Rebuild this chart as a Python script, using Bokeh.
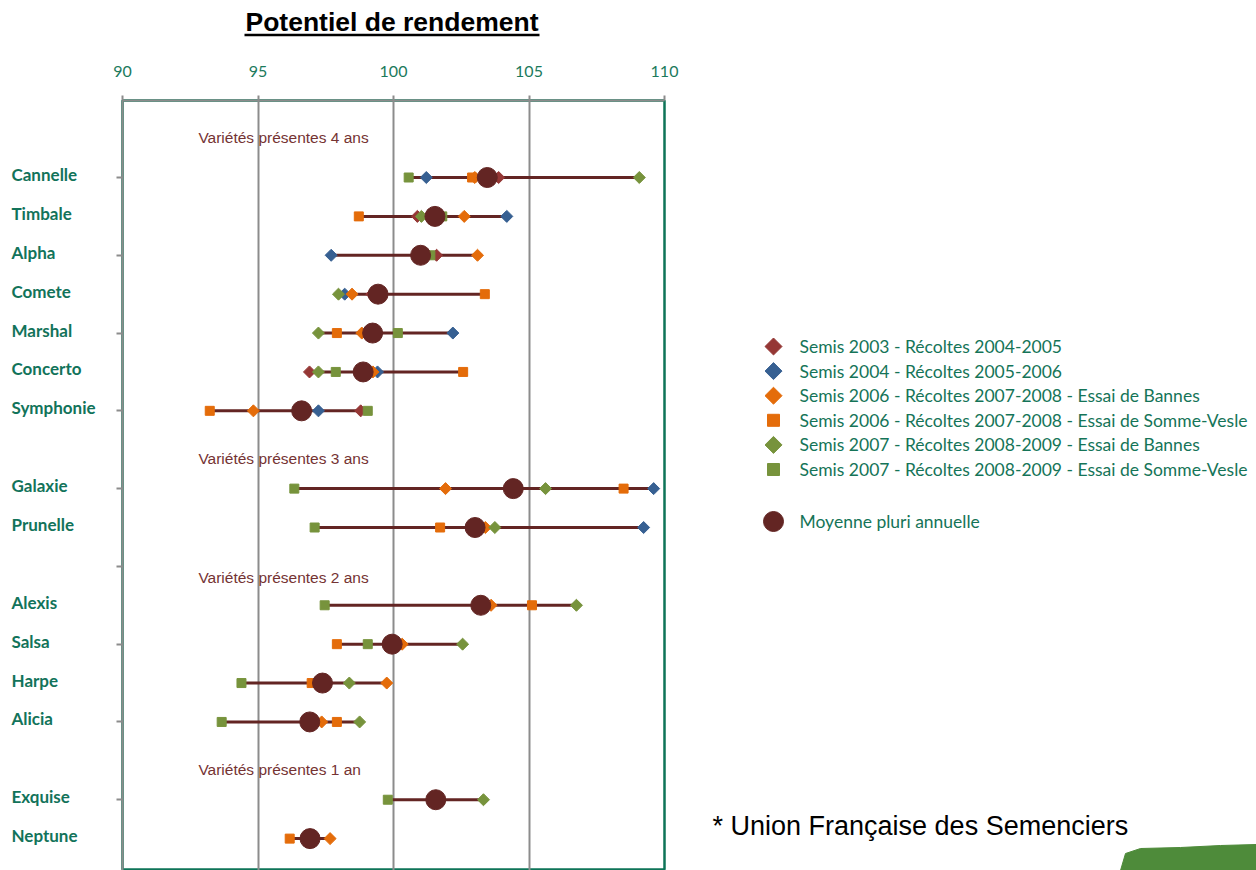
import numpy as np
from bokeh.plotting import figure
from bokeh.models import Range1d, FixedTicker, ColumnDataSource
from bokeh.layouts import row, column
from bokeh.embed import file_html
from bokeh.resources import INLINE
from bokeh.core.properties import value

nan = np.nan

# ---------------- data ----------------
title_text = "Potentiel de rendement"
group_labels = ["Variétés présentes 4 ans", "Variétés présentes 3 ans",
                "Variétés présentes 2 ans", "Variétés présentes 1 an"]
group_varieties = [
    ["Cannelle", "Timbale", "Alpha", "Comete", "Marshal", "Concerto", "Symphonie"],
    ["Galaxie", "Prunelle"],
    ["Alexis", "Salsa", "Harpe", "Alicia"],
    ["Exquise", "Neptune"],
]
x_ticks = [90, 95, 100, 105, 110]

series_names = [
    "Semis 2003 - Récoltes 2004-2005",
    "Semis 2004 - Récoltes 2005-2006",
    "Semis 2006 - Récoltes 2007-2008 - Essai de Bannes",
    "Semis 2006 - Récoltes 2007-2008 - Essai de Somme-Vesle",
    "Semis 2007 - Récoltes 2008-2009 - Essai de Bannes",
    "Semis 2007 - Récoltes 2008-2009 - Essai de Somme-Vesle",
]
mean_name = "Moyenne pluri annuelle"
footnote = "* Union Française des Semenciers"

#            Cann    Timb    Alph    Come    Mars    Conc    Symp    Gala    Prun    Alex    Sals    Harp    Alic    Exqu    Nept
s2003   = [103.88, 100.88, 101.59,  99.20,  99.06,  96.90,  98.79,   nan,    nan,    nan,    nan,    nan,    nan,    nan,    nan]
s2004   = [101.21, 104.18,  97.70,  98.20, 102.19,  99.41,  97.23, 109.60, 109.23,   nan,    nan,    nan,    nan,    nan,    nan]
s2006_b = [103.00, 102.61, 103.10,  98.47,  98.83,  99.24,  94.83, 101.92, 103.39, 103.60, 100.32,  99.75,  97.35,   nan,  97.66]
s2006_s = [102.90,  98.72, 101.05, 103.37,  97.91, 102.57,  93.22, 108.49, 101.72, 105.11,  97.91,  96.98,  97.91,   nan,  96.17]
s2007_b = [109.07, 101.03, 101.20,  97.97,  97.23,  97.23,  96.54, 105.61, 103.74, 106.75, 102.55,  98.37,  98.75, 103.32,   nan]
s2007_s = [100.56, 101.80, 101.36,  99.40, 100.16,  97.87,  99.05,  96.34,  97.09,  97.46,  99.05,  94.39,  93.66,  99.79,   nan]
moyenne = [103.46, 101.53, 101.00,  99.43,  99.23,  98.88,  96.61, 104.42, 103.01, 103.22,  99.95,  97.38,  96.91, 101.56,  96.92]

series_values = [s2003, s2004, s2006_b, s2006_s, s2007_b, s2007_s]

# ---------------- styles ----------------
series_colors = ["#953735", "#376092", "#E46C0A", "#E46C0A", "#77933C", "#77933C"]
series_is_diamond = [True, True, True, False, True, False]
mean_color = "#632523"
green_txt = "#12735A"
grid_gray = "#8C8C8C"
label_dy = [-0.03, 0.23, 0.29, 0.23]

# row layout: one header slot per group, then its varieties
varieties, rows, header_rows = [], [], []
r = -1
for g in group_varieties:
    header_rows.append(r)
    r += 1
    for v in g:
        varieties.append(v)
        rows.append(r)
        r += 1

arr = np.array(series_values, dtype=float)
lo = np.nanmin(arr, axis=0)
hi = np.nanmax(arr, axis=0)


def bare(fig):
    fig.grid.visible = False
    fig.outline_line_color = None
    fig.background_fill_color = "white"
    fig.border_fill_color = "white"
    return fig


# ---------------- title figure ----------------
tf = bare(figure(width=700, height=52, x_range=Range1d(0, 700), y_range=Range1d(52, 0),
                 x_axis_location=None, y_axis_location=None,
                 output_backend="svg", toolbar_location=None,
                 min_border_left=0, min_border_right=0, min_border_top=0, min_border_bottom=0))
tf.text(x=[391.5], y=[21], text=[title_text], text_font=value("Liberation Sans"),
        text_font_style="bold", text_font_size="26.5px", text_color="black",
        text_align="center", text_baseline="middle")
tf.segment(x0=[244], y0=[34.5], x1=[539], y1=[34.5], line_color="black", line_width=2.5)

# ---------------- main figure ----------------
yr = Range1d(17.82, -1.98)
p = figure(width=588, height=818, x_range=Range1d(90, 110), y_range=yr,
           x_axis_location="above", output_backend="svg", toolbar_location=None,
           min_border_left=10, min_border_right=36, min_border_top=48, min_border_bottom=0)
p.background_fill_color = "white"
p.border_fill_color = "white"

p.xaxis.ticker = FixedTicker(ticks=x_ticks)
p.xaxis.major_label_text_color = "#1B7A5C"
p.xaxis.major_label_text_font = "Lato"
p.xaxis.major_label_text_font_size = "16px"
p.xaxis.major_label_standoff = 19
p.xaxis.axis_line_color = grid_gray
p.xaxis.axis_line_width = 2
p.xaxis.major_tick_line_color = grid_gray
p.xaxis.major_tick_line_width = 2
p.xaxis.major_tick_out = 5
p.xaxis.major_tick_in = 0
p.xaxis.minor_tick_out = 0
p.xaxis.minor_tick_in = 0

even_rows = [rr for rr in rows + header_rows if rr >= 0 and rr % 2 == 0]
p.yaxis.ticker = FixedTicker(ticks=sorted(even_rows))
p.yaxis.major_label_overrides = {t: "" for t in even_rows}
p.yaxis.major_label_standoff = 0
p.yaxis.axis_line_color = grid_gray
p.yaxis.axis_line_width = 2
p.yaxis.major_tick_line_color = grid_gray
p.yaxis.major_tick_line_width = 2
p.yaxis.major_tick_out = 6
p.yaxis.major_tick_in = 0
p.yaxis.minor_tick_out = 0
p.yaxis.minor_tick_in = 0

p.xgrid.ticker = FixedTicker(ticks=[95, 100, 105])
p.xgrid.grid_line_color = grid_gray
p.xgrid.grid_line_width = 2
p.ygrid.visible = False
p.outline_line_color = "#0E7458"
p.outline_line_width = 2.5

src = ColumnDataSource(dict(row=rows, name=varieties, lo=lo, hi=hi, mean=moyenne))
p.segment(x0="lo", y0="row", x1="hi", y1="row", source=src, line_color=mean_color, line_width=3)

for vals, col, dia in zip(series_values, series_colors, series_is_diamond):
    p.scatter(x=vals, y=rows, marker="square", angle=(np.pi / 4 if dia else 0.0),
              size=(8.5 if dia else 9), fill_color=col, line_color=col)

p.scatter(x="mean", y="row", source=src, marker="circle", size=20,
          fill_color=mean_color, line_color=mean_color)

p.text(x=[92.8] * len(group_labels), y=[h + d for h, d in zip(header_rows, label_dy)],
       text=group_labels, text_font=value("Liberation Sans"), text_font_size="15.5px",
       text_color="#753333", text_align="left", text_baseline="middle")

# ---------------- category label figure (left of the axis) ----------------
labf = bare(figure(width=112, height=818, x_range=Range1d(0, 112), y_range=yr,
                   x_axis_location=None, y_axis_location=None,
                   output_backend="svg", toolbar_location=None,
                   min_border_left=0, min_border_right=0, min_border_top=48, min_border_bottom=0))
labf.text(x=11, y="row", text="name", source=src, text_font=value("Lato"),
          text_font_style="bold", text_font_size="17px", text_color=green_txt,
          text_align="left", text_baseline="middle", y_offset=-3)

# ---------------- legend figure ----------------
lf = bare(figure(width=556, height=870, x_range=Range1d(0, 556), y_range=Range1d(870, 0),
                 x_axis_location=None, y_axis_location=None,
                 output_backend="svg", toolbar_location=None,
                 min_border_left=0, min_border_right=0, min_border_top=0, min_border_bottom=0))

leg_y = [346 + i * 24.6 for i in range(len(series_names))]
for yy, col, dia in zip(leg_y, series_colors, series_is_diamond):
    lf.scatter(x=[73], y=[yy], marker="square", angle=(np.pi / 4 if dia else 0.0),
               size=12, fill_color=col, line_color=col)
lf.scatter(x=[73], y=[521], marker="circle", size=20, fill_color=mean_color, line_color=mean_color)
lf.text(x=[99] * (len(series_names) + 1), y=leg_y + [521], text=series_names + [mean_name],
        text_font=value("Lato"), text_font_size="17.5px", text_color="#157458",
        text_align="left", text_baseline="middle")
lf.text(x=[12], y=[825], text=[footnote], text_font=value("Liberation Sans"),
        text_font_size="27px", text_color="black", text_align="left", text_baseline="middle")
# logo fragment at the bottom-right corner
lf.patch(x=[425, 440, 480, 520, 556, 556, 420], y=[853, 848, 847, 845, 844, 870, 870],
         fill_color="#4E8B3A", line_color="#4E8B3A")

layout = row(column(tf, row(labf, p)), lf)
open("out.html", "w").write(file_html(layout, INLINE))
